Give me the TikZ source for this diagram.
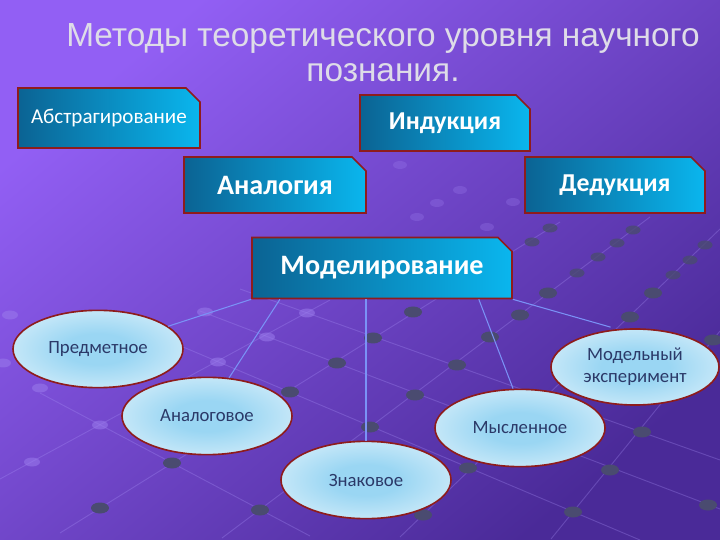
\documentclass[tikz,border=0pt]{standalone}
\usepackage{fontspec}
\setmainfont{Liberation Sans}
\newfontfamily\boxfont{Carlito}
\newfontfamily\lblfont{Carlito}
\usepackage{tikz}
\usetikzlibrary{
positioning,
shapes.geometric,
shapes.misc,
calc
}
\definecolor{bgtop}{HTML}{925FF4}
\definecolor{bgbot}{HTML}{4A2A98}
\definecolor{boxdark}{HTML}{0B6393}
\definecolor{boxlight}{HTML}{0AB6EE}
\definecolor{rimred}{HTML}{8E1C1C}
\definecolor{ellin}{HTML}{9AD6F3}
\definecolor{ellout}{HTML}{F2F9FD}
\definecolor{ellink}{HTML}{2B3968}
\definecolor{linkblue}{HTML}{7A92F6}
\definecolor{titlegray}{HTML}{DEDCE8}
\definecolor{dotdark}{HTML}{4A4B70}
\definecolor{dotpale}{HTML}{9A7BEC}
\definecolor{gridline}{HTML}{A790F6}
\pgfdeclareradialshading{ellglow}{\pgfpoint{0bp}{0bp}}{color(0bp)=(ellin); color(10bp)=(ellin); color(42bp)=(ellout); color(50bp)=(ellout)}

\begin{document}
\begin{tikzpicture}[
  x=0.03cm, y=-0.03cm,
  method/.style={chamfered rectangle, chamfered rectangle corners=north east, chamfered rectangle xsep=6pt, chamfered rectangle ysep=6pt, draw=rimred, line width=1.4pt, left color=boxdark, right color=boxlight, text=white, inner sep=0pt, font=\boxfont\bfseries\fontsize{22}{25}\selectfont},
  kind/.style={ellipse, draw=rimred, line width=1.4pt, shade, shading=ellglow, text=ellink, inner sep=0pt, align=center, minimum width=5.1cm, minimum height=2.32cm, font=\lblfont\fontsize{16}{19}\selectfont},
  link/.style={linkblue, line width=0.9pt},
  grid/.style={gridline, line width=0.8pt, opacity=0.3}
]
\useasboundingbox (0,0) rectangle (720,540);
\shade[top color=bgtop, bottom color=bgbot, shading angle=40] (0,0) rectangle (720,540);

% Background lattice
\draw[grid] (0,479) -- (330,300);
\draw[grid] (60,533) -- (560,222);
\draw[grid] (222,538) -- (650,217);
\draw[grid] (400,537) -- (720,229);
\draw[grid] (551,539) -- (720,331);
\draw[grid] (150,333) -- (640,540);
\draw[grid] (200,311) -- (720,509);
\draw[grid] (240,289) -- (720,460);
\draw[grid] (40,393) -- (310,536);
\foreach \px/\py in {32/462, 100/425, 218/362, 267/337, 307/313, 205/312, 40/388, 10/315, 3/363}
  \fill[dotpale, opacity=0.55] (\px,\py) ellipse[x radius=8, y radius=4.5];
\foreach \px/\py in {400/165, 437/203, 460/190, 417/217, 487/227, 513/202}
  \fill[dotpale, opacity=0.3] (\px,\py) ellipse[x radius=7, y radius=4];
\foreach \px/\py in {100/508, 172/463, 260/510, 290/392, 337/363, 373/338, 413/312, 370/427, 415/395, 457/365, 490/337, 520/315, 548/293, 468/468, 423/515, 630/317, 653/293, 713/340, 642/432, 610/470, 573/512, 708/505}
  \fill[dotdark] (\px,\py) ellipse[x radius=9, y radius=5.5];
\foreach \px/\py in {550/228, 532/242, 633/230, 617/243, 598/257, 577/273, 705/245, 690/260, 673/275}
  \fill[dotdark, opacity=0.8] (\px,\py) ellipse[x radius=7.5, y radius=4.5];

% Title
\node[text=titlegray, align=center, font=\fontsize{28.5}{30}\selectfont] (title) at (383,53) {Методы теоретического уровня научного\\познания.};

% Methods
\node[method, minimum width=5.46cm, minimum height=1.8cm, font=\lblfont\fontsize{18}{21}\selectfont] (abstr) at (109,118) {Абстрагирование};
\node[method, minimum width=5.1cm, minimum height=1.68cm] (induct) at (445,123) {Индукция};
\node[method, minimum width=5.46cm, minimum height=1.68cm, font=\boxfont\bfseries\fontsize{24}{27}\selectfont] (analogy) at (275,185) {Аналогия};
\node[method, minimum width=5.4cm, minimum height=1.68cm] (deduct) at (615,185) {Дедукция};
\node[method, minimum width=7.8cm, minimum height=1.83cm, font=\boxfont\bfseries\fontsize{24}{27}\selectfont] (model) at (382,268) {Моделирование};

% Kinds of modelling
\node[kind] (pred) at (98,349) {Предметное};
\node[kind] (analogov) at (207,416) {Аналоговое};
\node[kind] (znak) at (366,480) {Знаковое};
\node[kind] (mysl) at (520,428) {Мысленное};
\node[kind, minimum width=5.04cm, minimum height=2.28cm] (modexp) at (635,367) {Модельный\\эксперимент};

% Edges
\draw[link] (model.south west) -- (pred);
\draw[link] ($(model.south west)!0.11!(model.south east)$) -- (analogov.60);
\draw[link] (znak.north |- model.south) -- (znak.north);
\draw[link] ($(model.south west)!0.87!(model.south east)$) -- (mysl.100);
\draw[link, shorten >=6pt] (model.south east) -- (modexp.115);

\end{tikzpicture}
\end{document}
